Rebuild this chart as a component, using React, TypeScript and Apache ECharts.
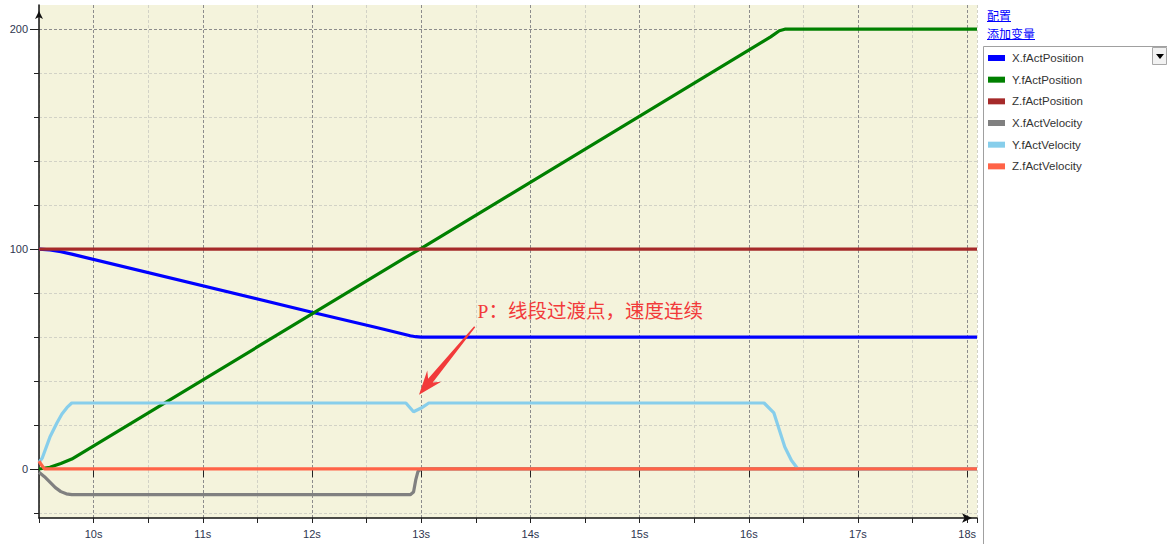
import React, { useEffect, useRef } from 'react';
import * as echarts from 'echarts';

// ---- data (time in s, value) ----
const xPosT = [9.5, 9.6, 9.7, 9.8, 12.0, 12.6, 12.9, 12.95, 13.0, 18.09];
const xPosV = [100, 99.6, 98.8, 97.7, 71.3, 64.2, 60.6, 60.15, 60, 60];

const yPosT = [9.5, 9.6, 9.7, 9.8, 12.85, 13.0, 16.2, 16.28, 16.33, 18.09];
const yPosV = [0, 0.8, 2.5, 4.5, 96, 100.3, 196.5, 199.3, 200, 200];

const zPosT = [9.5, 18.09];
const zPosV = [100, 100];

const xVelT = [9.5, 9.55, 9.6, 9.65, 9.7, 9.75, 9.8, 12.9, 12.93, 12.95, 12.97, 13.0, 18.09];
const xVelV = [-1.5, -3.5, -6, -8.5, -10.3, -11.3, -11.7, -11.7, -10.5, -5, -1.2, 0, 0];

const yVelT = [9.5, 9.53, 9.6, 9.665, 9.71, 9.757, 9.8, 12.86, 12.93, 13.0, 13.07, 16.14, 16.23, 16.28, 16.33, 16.39, 16.45, 18.09];
const yVelV = [3, 5, 14.5, 21, 25, 28, 30, 30, 26, 27.7, 30, 30, 25.5, 17.7, 10, 4, 0, 0];

const zVelT = [9.5, 9.52, 9.55, 18.09];
const zVelV = [3.6, 2, 0, 0];

const seriesNames = ['X.fActPosition', 'Y.fActPosition', 'Z.fActPosition', 'X.fActVelocity', 'Y.fActVelocity', 'Z.fActVelocity'];
const seriesColors = ['#0000ff', '#008000', '#a52a2a', '#808080', '#87ceeb', '#ff6347'];
const seriesTimes = [xPosT, yPosT, zPosT, xVelT, yVelT, zVelT];
const seriesValues = [xPosV, yPosV, zPosV, xVelV, yVelV, zVelV];

const xMin = 9.5;
const xMax = 18.09;
const yMin = -22.3;
const yMax = 211;
const xMajorTicks = [10, 11, 12, 13, 14, 15, 16, 17, 18];
const xTickLabels = ['10s', '11s', '12s', '13s', '14s', '15s', '16s', '17s', '18s'];
const yMinorTicks = [-20, 0, 20, 40, 60, 80, 100, 120, 140, 160, 180, 200];
const yMajorTicks = [0, 100, 200];
const yTickLabels = ['0', '100', '200'];

const annotationText = 'P：线段过渡点，速度连续';
const annotationTextAt = [13.516, 71.6];
const annotationTail = [13.49, 64.7];
const annotationTip = [12.98, 33.8];

const panelLinks = ['配置', '添加变量'];

const LIGHT = '#d2d2c6';
const DARK = '#8c8c8c';
const AXIS_TEXT = '#2e3650';

export default function App() {
  const ref = useRef<HTMLDivElement>(null);

  useEffect(() => {
    if (!ref.current) return;
    const chart = echarts.init(ref.current, undefined, { renderer: 'svg' });

    const series: any[] = seriesNames.map((name, i) => ({
      name,
      type: 'line',
      xAxisIndex: 0,
      yAxisIndex: 0,
      data: seriesTimes[i].map((t, k) => [t, seriesValues[i][k]]),
      showSymbol: false,
      symbol: 'none',
      color: seriesColors[i],
      lineStyle: { width: 3.2, color: seriesColors[i] },
      silent: true,
    }));

    chart.setOption({
      animation: false,
      backgroundColor: '#ffffff',
      grid: {
        left: 39,
        top: 5,
        right: 190,
        bottom: 26,
        show: true,
        backgroundColor: '#f4f3dc',
        borderWidth: 0,
      },
      legend: {
        orient: 'vertical',
        left: 988,
        top: 51,
        padding: 0,
        itemGap: 7.67,
        itemWidth: 17,
        itemHeight: 6,
        icon: 'rect',
        selectedMode: false,
        data: seriesNames,
        textStyle: {
          fontSize: 11.5,
          lineHeight: 14,
          color: '#333333',
          fontFamily: '"Liberation Sans", Arial, sans-serif',
          padding: [0, 0, 0, 2],
        },
      },
      xAxis: [
        {
          type: 'value',
          min: xMin,
          max: xMax,
          interval: 0.5,
          position: 'bottom',
          axisLine: {
            show: true,
            onZero: false,
            lineStyle: { color: '#111', width: 1.5 },
            symbol: ['none', 'arrow'],
            symbolSize: [7, 10],
            symbolOffset: [0, -5],
          },
          axisTick: { show: true, length: 5, lineStyle: { color: '#222', width: 1 } },
          axisLabel: {
            show: true,
            customValues: xMajorTicks,
            formatter: (v: number) => {
              const idx = xMajorTicks.findIndex((t) => Math.abs(t - v) < 1e-6);
              return idx >= 0 ? xTickLabels[idx] : '';
            },
            margin: 10,
            color: AXIS_TEXT,
            fontSize: 11,
            fontFamily: '"Liberation Sans", Arial, sans-serif',
          },
          splitLine: { show: true, lineStyle: { color: LIGHT, type: [3, 2], width: 1 } },
        },
        {
          type: 'value',
          min: xMin,
          max: xMax,
          position: 'bottom',
          axisLine: { show: false },
          axisTick: { show: true, customValues: xMajorTicks, length: 8, lineStyle: { color: '#222', width: 1 } },
          axisLabel: { show: false },
          splitLine: { show: true, lineStyle: { color: DARK, type: [3, 2], width: 1 } },
        },
      ],
      yAxis: [
        {
          type: 'value',
          min: yMin,
          max: yMax,
          position: 'left',
          offset: 0,
          axisLine: {
            show: true,
            onZero: false,
            lineStyle: { color: '#111', width: 1.5 },
            symbol: ['none', 'arrow'],
            symbolSize: [6, 8],
            symbolOffset: [0, -6],
          },
          axisTick: { show: true, customValues: yMinorTicks, length: 5, lineStyle: { color: '#222', width: 1 } },
          axisLabel: {
            show: true,
            customValues: yMajorTicks,
            formatter: (v: number) => {
              const idx = yMajorTicks.findIndex((t) => Math.abs(t - v) < 1e-6);
              return idx >= 0 ? yTickLabels[idx] : '';
            },
            margin: 11,
            color: AXIS_TEXT,
            fontSize: 11,
            fontFamily: '"Liberation Sans", Arial, sans-serif',
          },
          splitLine: { show: true, lineStyle: { color: LIGHT, type: [3, 2], width: 1 } },
        },
        {
          type: 'value',
          min: yMin,
          max: yMax,
          position: 'left',
          offset: 0,
          axisLine: { show: false },
          axisTick: { show: true, customValues: yMajorTicks, length: 9, lineStyle: { color: '#222', width: 1 } },
          axisLabel: { show: false },
          splitLine: { show: true, lineStyle: { color: DARK, type: [3, 2], width: 1 } },
        },
      ],
      series,
    });

    // annotation anchored to data coordinates
    const tip = chart.convertToPixel({ gridIndex: 0 }, annotationTip) as number[];
    const tail = chart.convertToPixel({ gridIndex: 0 }, annotationTail) as number[];
    const txt = chart.convertToPixel({ gridIndex: 0 }, annotationTextAt) as number[];
    const dx = tip[0] - tail[0];
    const dy = tip[1] - tail[1];
    const len = Math.hypot(dx, dy);
    const ux = dx / len;
    const uy = dy / len;
    const nx = -uy;
    const ny = ux;
    const headLen = 24;
    const headHalf = 9;
    const shaftHalf = 3;
    const tailHalf = 0.7;
    const bx = tip[0] - ux * headLen;
    const by = tip[1] - uy * headLen;
    const nbx = bx + ux * 6;
    const nby = by + uy * 6;
    const arrowPts = [
      [tail[0] + nx * tailHalf, tail[1] + ny * tailHalf],
      [nbx + nx * shaftHalf, nby + ny * shaftHalf],
      [bx + nx * headHalf, by + ny * headHalf],
      [tip[0], tip[1]],
      [bx - nx * headHalf, by - ny * headHalf],
      [nbx - nx * shaftHalf, nby - ny * shaftHalf],
      [tail[0] - nx * tailHalf, tail[1] - ny * tailHalf],
    ];

    const linkFont = '"Noto Sans CJK SC", sans-serif';
    chart.setOption({
      graphic: [
        // right panel
        {
          type: 'rect',
          z: -1,
          shape: { x: 983.5, y: 46.5, width: 190, height: 510 },
          style: { fill: '#ffffff', stroke: '#a0a0a0', lineWidth: 1 },
          silent: true,
        },
        {
          type: 'rect',
          shape: { x: 1152.5, y: 47.5, width: 14, height: 17 },
          style: { fill: '#f2f2f2', stroke: '#a8a8a8', lineWidth: 1 },
          silent: true,
        },
        {
          type: 'polygon',
          shape: { points: [[1156, 54], [1164, 54], [1160, 59]] },
          style: { fill: '#000000' },
          silent: true,
        },
        {
          type: 'text',
          x: 987,
          y: 15,
          style: { text: panelLinks[0], fill: '#0000ff', fontSize: 12, fontFamily: linkFont, verticalAlign: 'middle' },
          silent: true,
        },
        {
          type: 'line',
          shape: { x1: 987, y1: 21.5, x2: 1011, y2: 21.5 },
          style: { stroke: '#0000ff', lineWidth: 1 },
          silent: true,
        },
        {
          type: 'text',
          x: 987,
          y: 33,
          style: { text: panelLinks[1], fill: '#0000ff', fontSize: 12, fontFamily: linkFont, verticalAlign: 'middle' },
          silent: true,
        },
        {
          type: 'line',
          shape: { x1: 987, y1: 39.5, x2: 1035, y2: 39.5 },
          style: { stroke: '#0000ff', lineWidth: 1 },
          silent: true,
        },
        // annotation
        {
          type: 'polygon',
          z: 100,
          shape: { points: arrowPts },
          style: { fill: '#f23a3a' },
          silent: true,
        },
        {
          type: 'text',
          z: 100,
          x: txt[0],
          y: txt[1],
          style: {
            text: annotationText,
            fill: '#f23a3a',
            fontSize: 19.5,
            fontFamily: '"Liberation Serif", "Noto Sans CJK SC", serif',
            verticalAlign: 'middle',
          },
          silent: true,
        },
      ],
    });

    return () => {
      chart.dispose();
    };
  }, []);

  return (
    <div
      ref={ref}
      style={{ position: 'fixed', left: 0, top: 0, width: 1167, height: 544 }}
    />
  );
}
